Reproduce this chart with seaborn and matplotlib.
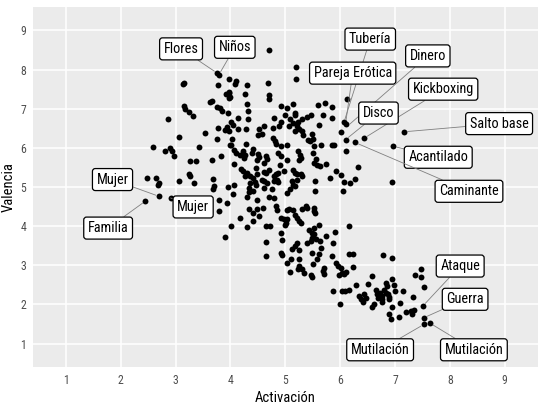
import matplotlib
matplotlib.use("Agg")
import matplotlib.pyplot as plt
import seaborn as sns
import pandas as pd

# ---- data: (Activación, Valencia) ----
pts_high = [(4.70, 8.51), (5.20, 8.06), (5.20, 7.76), (3.76, 7.91), (3.79, 7.87), (3.16, 7.66), (3.14, 7.62),
            (3.98, 7.76), (4.11, 7.72), (4.09, 7.63), (3.78, 7.61), (4.31, 7.60), (4.69, 7.66), (3.97, 7.44),
            (3.98, 7.40), (3.92, 7.38), (4.00, 7.30), (3.97, 7.28), (4.27, 7.38), (4.70, 7.36), (4.70, 7.26),
            (6.13, 7.25), (3.16, 7.06), (3.18, 6.99), (3.63, 7.16), (3.67, 7.19), (3.76, 7.04), (3.81, 7.02),
            (3.24, 6.91), (3.32, 6.82), (3.85, 6.93), (4.30, 7.13), (4.32, 6.93), (4.92, 7.06), (5.04, 7.02),
            (5.14, 7.13), (5.18, 6.89), (5.17, 6.83), (5.60, 7.09), (5.73, 7.14), (5.86, 7.04), (5.47, 6.85),
            (5.39, 6.79), (5.30, 6.74), (5.24, 6.66), (5.68, 6.85), (2.86, 6.75), (3.96, 6.89), (4.14, 6.76),
            (4.32, 6.74), (4.01, 6.65), (4.04, 6.59), (4.80, 6.76), (4.92, 6.65), (4.89, 6.57), (4.99, 6.85),
            (5.08, 6.74), (5.06, 6.55), (5.15, 6.64), (5.22, 6.55), (5.25, 6.47), (6.07, 6.65), (6.10, 6.62),
            (5.86, 6.76), (5.61, 6.59)]

pts_midhigh = [(6.02, 6.41), (3.93, 6.53), (3.97, 6.42), (3.91, 6.46), (3.77, 6.51), (4.14, 6.47), (4.29, 6.47),
               (4.52, 6.47), (4.51, 6.34), (4.57, 6.35), (4.77, 6.51), (4.61, 6.55), (5.17, 6.42), (5.31, 6.42),
               (5.32, 6.34), (5.49, 6.36), (5.50, 6.23), (3.06, 6.27), (3.54, 6.38), (3.76, 6.23), (4.03, 6.23),
               (4.01, 6.08), (3.99, 6.07), (4.29, 6.11), (4.77, 6.25), (4.81, 6.17), (4.84, 6.11), (4.92, 6.04),
               (5.03, 6.07), (5.42, 6.21), (5.45, 6.17), (5.52, 6.04), (5.65, 6.08), (5.85, 6.08), (5.89, 6.08),
               (6.10, 6.21), (6.27, 6.14), (6.43, 6.24), (7.16, 6.41), (6.97, 6.04), (2.59, 6.02), (2.81, 5.91),
               (2.89, 6.00), (2.94, 5.91), (2.97, 5.79), (3.43, 6.02), (3.26, 5.66), (3.37, 5.66), (3.66, 5.68),
               (3.82, 5.79), (4.07, 5.94), (4.11, 5.87), (4.17, 5.83), (4.23, 5.91), (4.27, 5.83), (4.25, 5.74),
               (4.42, 5.96), (4.39, 5.87), (4.51, 5.85), (4.53, 5.77), (4.49, 5.70), (4.65, 5.79), (4.67, 5.72),
               (4.61, 5.61), (4.87, 5.87), (4.93, 5.79), (5.23, 5.91), (5.26, 5.83), (5.28, 5.74), (5.25, 5.70),
               (5.50, 5.87), (5.56, 5.72), (6.11, 5.91), (5.03, 5.68), (5.53, 5.62), (5.57, 5.57), (5.75, 5.59),
               (4.06, 5.58)]

pts_mid = [(5.63, 5.53), (6.32, 5.51), (4.20, 5.45), (4.23, 5.40), (4.30, 5.36), (4.27, 5.29), (4.36, 5.28),
           (4.41, 5.22), (4.47, 5.49), (4.49, 5.32), (4.61, 5.38), (4.65, 5.36), (4.71, 5.44), (4.84, 5.32),
           (4.87, 5.36), (4.91, 5.57), (4.97, 5.40), (4.80, 5.27), (4.79, 5.15), (4.87, 5.12), (4.85, 5.19),
           (5.15, 5.43), (5.18, 5.36), (5.22, 5.32), (5.28, 5.34), (5.31, 5.29), (5.22, 5.19), (5.12, 5.15),
           (5.54, 5.15), (5.92, 5.40), (6.01, 5.30), (5.81, 5.23), (6.07, 5.12), (6.06, 4.89), (6.27, 5.21),
           (6.18, 5.11), (6.94, 5.12), (2.48, 5.22), (2.65, 5.23), (2.70, 5.09), (2.68, 5.04), (3.06, 5.16),
           (3.24, 5.32), (3.27, 5.28), (3.34, 5.11), (3.69, 5.21), (3.70, 5.02), (3.69, 4.94), (3.96, 5.00),
           (4.06, 5.06), (4.36, 5.10), (4.34, 4.98), (4.33, 4.87), (4.44, 5.14), (4.46, 5.04), (4.58, 5.19),
           (4.61, 5.15), (4.67, 5.10), (4.61, 4.98), (5.04, 4.85), (5.08, 4.94), (5.18, 5.02), (5.15, 5.06),
           (2.70, 4.76), (2.45, 4.64), (2.91, 4.72), (3.79, 4.68), (3.94, 4.58), (4.04, 4.83), (4.31, 4.75),
           (4.49, 4.68), (4.42, 4.89), (4.76, 4.94), (4.70, 4.75), (4.79, 4.71), (4.84, 4.51), (5.54, 4.89)]

pts_midlow = [(3.80, 4.38), (4.85, 4.42), (4.60, 4.47), (4.49, 4.44), (4.34, 4.43), (4.42, 4.34), (4.53, 4.25),
              (4.18, 4.20), (4.93, 4.21), (4.98, 4.17), (5.03, 4.17), (5.01, 4.08), (4.99, 4.02), (5.04, 4.40),
              (5.06, 4.44), (5.14, 4.42), (5.30, 4.45), (5.38, 4.51), (5.40, 4.47), (5.18, 4.29), (5.22, 4.20),
              (5.25, 4.12), (5.28, 4.07), (5.53, 4.47), (5.52, 4.38), (5.55, 4.34), (4.01, 4.00), (4.31, 3.97),
              (4.42, 4.13), (4.64, 4.00), (4.73, 4.00), (3.91, 3.73), (4.92, 3.83), (4.94, 3.64), (5.62, 4.04),
              (5.44, 3.91), (5.48, 3.83), (5.52, 3.96), (6.16, 4.00), (5.91, 3.86), (5.52, 3.79), (5.48, 3.70),
              (5.56, 3.66), (5.47, 3.62), (5.74, 3.74), (5.63, 3.62), (5.40, 3.58), (5.87, 3.58), (5.22, 3.56),
              (5.17, 3.49), (5.12, 3.42), (5.25, 3.39), (4.64, 3.60), (4.64, 3.23), (4.92, 3.32), (4.94, 3.25),
              (5.11, 3.17), (5.04, 3.06), (5.25, 3.15), (5.48, 3.32), (5.61, 3.28), (5.58, 3.17), (5.85, 3.23),
              (5.66, 3.45), (6.16, 3.30), (6.24, 3.28), (6.78, 3.25), (6.94, 3.19)]

pts_low = [(5.25, 2.99), (5.24, 2.91), (5.30, 2.90), (5.34, 2.79), (5.09, 2.83), (5.50, 3.03), (5.47, 2.76),
           (5.49, 2.70), (5.71, 2.94), (5.68, 2.85), (5.71, 2.77), (5.93, 3.06), (5.97, 2.99), (6.01, 2.94),
           (6.04, 2.81), (6.07, 2.77), (5.98, 2.74), (6.10, 2.82), (6.24, 2.95), (5.87, 2.34), (6.00, 2.00),
           (6.03, 2.34), (6.09, 2.34), (6.16, 2.37), (6.29, 2.49), (6.35, 2.22), (6.38, 2.13), (6.41, 2.06),
           (6.44, 2.26), (6.47, 2.17), (6.51, 2.52), (6.58, 2.73), (6.61, 2.00), (6.59, 1.94), (6.65, 2.37),
           (6.67, 2.26), (6.70, 2.17), (6.73, 2.28), (6.77, 2.22), (6.77, 2.13), (6.77, 2.05), (6.83, 2.55),
           (6.86, 2.47), (6.80, 2.38), (6.84, 2.30), (6.88, 2.26), (6.90, 2.20), (6.89, 2.13), (6.95, 2.66),
           (6.98, 2.49), (7.00, 2.33), (6.94, 1.94), (6.90, 1.75), (6.92, 1.62), (7.08, 1.69), (7.15, 2.34),
           (7.10, 2.04), (7.21, 1.81), (7.30, 1.83), (7.32, 1.75), (7.34, 1.86), (7.33, 2.19), (7.36, 2.74),
           (7.47, 2.90), (7.47, 2.71), (7.51, 1.96), (7.53, 1.66), (7.53, 1.49), (7.64, 1.52), (7.53, 2.45)]

# labelled words and the point each one names
label_text = ["Flores", "Niños", "Tubería", "Pareja Erótica", "Dinero", "Kickboxing", "Disco",
              "Salto base", "Acantilado", "Caminante", "Mujer", "Mujer", "Familia",
              "Ataque", "Guerra", "Mutilación", "Mutilación"]
label_point = [(3.76, 7.91), (3.79, 7.87), (6.07, 6.65), (6.10, 6.62), (6.13, 6.55), (6.43, 6.24), (6.10, 6.21),
               (7.16, 6.41), (6.97, 6.04), (6.27, 6.14), (2.70, 4.76), (2.91, 4.72), (2.45, 4.64),
               (7.51, 1.96), (7.53, 1.66), (7.53, 1.49), (7.64, 1.52)]

# layout: where each repelled label box sits (data coords)
label_box = [(3.10, 8.53), (4.08, 8.57), (6.55, 8.78), (6.23, 7.91), (7.60, 8.35), (7.88, 7.50), (6.70, 6.89),
             (8.90, 6.62), (7.79, 5.76), (8.35, 4.89), (1.85, 5.19), (3.32, 4.49), (1.77, 3.95),
             (8.19, 2.98), (8.28, 2.13), (6.73, 0.84), (8.44, 0.84)]

ticks = [1, 2, 3, 4, 5, 6, 7, 8, 9]

pts = pts_high + pts_midhigh + pts_mid + pts_midlow + pts_low
df = pd.DataFrame(pts, columns=["Activación", "Valencia"])

sns.set_theme(style="darkgrid", rc={
    "axes.facecolor": "#EBEBEB",
    "grid.color": "white",
    "grid.linewidth": 1.1,
    "axes.edgecolor": "#EBEBEB",
})
plt.rcParams["font.family"] = ["Roboto Condensed", "Liberation Sans", "DejaVu Sans"]

fig = plt.figure(figsize=(5.45, 4.11), dpi=100)
ax = fig.add_axes([33 / 545, 1 - 367 / 411, (537.5 - 33) / 545, (367 - 7) / 411])

sns.scatterplot(data=df, x="Activación", y="Valencia", ax=ax, color="black",
                s=18, linewidth=0, zorder=3)

for txt, p, b in zip(label_text, label_point, label_box):
    ax.annotate(txt, xy=p, xytext=b, textcoords="data", ha="center", va="center",
                fontsize=10.3, color="black", zorder=5,
                bbox=dict(boxstyle="round,pad=0.28,rounding_size=0.2", fc="white", ec="black", lw=0.9),
                arrowprops=dict(arrowstyle="-", color="#7F7F7F", lw=0.6, shrinkA=0, shrinkB=2.5))

ax.set_xlim(0.4, 9.6)
ax.set_ylim(0.4, 9.6)
ax.set_xticks(ticks)
ax.set_yticks(ticks)
ax.set_xticklabels([str(t) for t in ticks])
ax.set_yticklabels([str(t) for t in ticks])
ax.tick_params(axis="both", which="both", length=3, width=0.8, color="#333333",
               labelcolor="#4D4D4D", labelsize=8.5, pad=2)
for s in ax.spines.values():
    s.set_visible(False)
ax.grid(True, which="major", color="white", linewidth=1.1)
ax.set_axisbelow(True)
ax.set_xlabel("Activación", fontsize=10.5, color="black", labelpad=3)
ax.set_ylabel("Valencia", fontsize=10.5, color="black", labelpad=3)

fig.savefig("out.png", dpi=100)
